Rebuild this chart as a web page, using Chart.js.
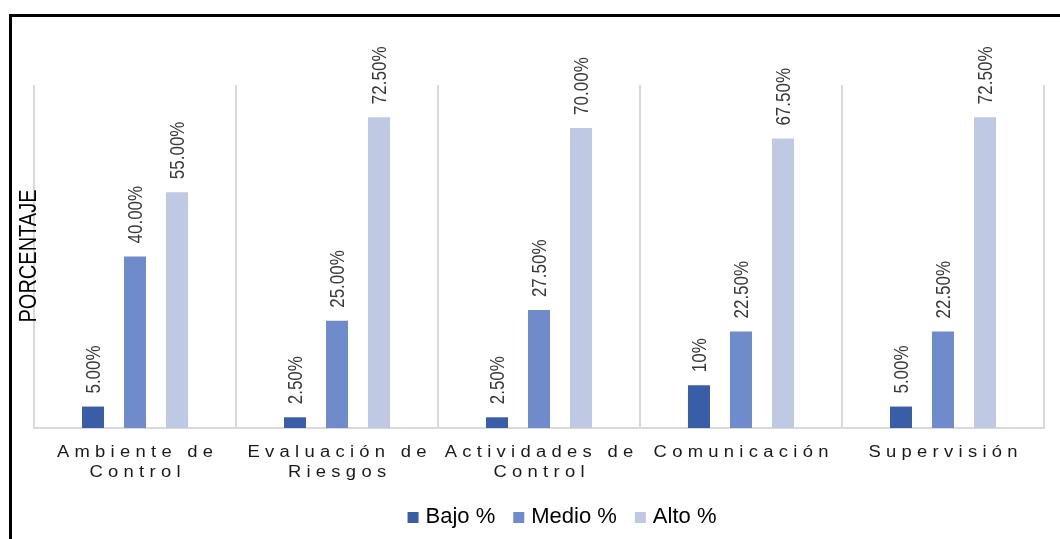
<!DOCTYPE html>
<html>
<head>
<meta charset="utf-8">
<script src="https://cdn.jsdelivr.net/npm/chart.js@4.4.1/dist/chart.umd.min.js"></script>
<style>
  html, body { margin: 0; padding: 0; background: #fff; }
  #wrap { width: 1060px; height: 539px; }
</style>
</head>
<body>
<div id="wrap"><canvas id="chart" width="1060" height="539"></canvas></div>
<script>
const categories = [
  ['Ambiente de', 'Control'],
  ['Evaluación de', 'Riesgos'],
  ['Actividades de', 'Control'],
  ['Comunicación'],
  ['Supervisión']
];
const seriesNames = ['Bajo %', 'Medio %', 'Alto %'];
const bajo = [5, 2.5, 2.5, 10, 5];
const medio = [40, 25, 27.5, 22.5, 22.5];
const alto = [55, 72.5, 70, 67.5, 72.5];
const bajoLabels = ['5.00%', '2.50%', '2.50%', '10%', '5.00%'];
const medioLabels = ['40.00%', '25.00%', '27.50%', '22.50%', '22.50%'];
const altoLabels = ['55.00%', '72.50%', '70.00%', '67.50%', '72.50%'];
const yMax = 80;
const yTitle = 'PORCENTAJE';

const colors = ['#3a5da7', '#6f8bcb', '#bfc9e3'];
const FONT = '"Liberation Sans", Arial, sans-serif';

// frame, axis title, category labels, value labels and legend
const decor = {
  id: 'decor',
  beforeDraw(c) {
    const ctx = c.ctx;
    ctx.save();
    ctx.fillStyle = '#000';
    ctx.fillRect(9, 14, c.width, 3);
    ctx.fillRect(9, 14, 3, c.height);
    ctx.restore();
  },
  afterDraw(c) {
    const ctx = c.ctx;
    const area = c.chartArea;
    const xs = c.scales.x;

    // y title
    ctx.save();
    ctx.translate(29, 256);
    ctx.rotate(-Math.PI / 2);
    ctx.scale(1, 1.22);
    ctx.font = '20px ' + FONT;
    ctx.fillStyle = '#000';
    ctx.textAlign = 'center';
    ctx.textBaseline = 'middle';
    ctx.fillText(yTitle, 0, 0);
    ctx.restore();

    // category labels, wide and spaced out
    ctx.save();
    ctx.font = '16px ' + FONT;
    ctx.fillStyle = '#1a1a1a';
    ctx.textBaseline = 'alphabetic';
    ctx.textAlign = 'left';
    const ls = 4.6;
    ctx.letterSpacing = ls + 'px';
    categories.forEach((lines, i) => {
      const cx = xs.getPixelForValue(i);
      lines.forEach((t, k) => {
        const w = ctx.measureText(t).width - ls;
        ctx.save();
        ctx.translate(cx, area.bottom + 29 + k * 20);
        ctx.scale(1.15, 1);
        ctx.fillText(t, -w / 2, 0);
        ctx.restore();
      });
    });
    ctx.restore();

    // value labels above the bars
    const labelSets = [bajoLabels, medioLabels, altoLabels];
    ctx.save();
    ctx.font = '17px ' + FONT;
    ctx.fillStyle = '#383838';
    ctx.textAlign = 'left';
    ctx.textBaseline = 'middle';
    c.data.datasets.forEach((ds, di) => {
      c.getDatasetMeta(di).data.forEach((bar, j) => {
        ctx.save();
        ctx.translate(bar.x + 1, bar.y - 13);
        ctx.rotate(-Math.PI / 2);
        ctx.scale(1, 1.2);
        ctx.fillText(labelSets[di][j], 0, 0);
        ctx.restore();
      });
    });
    ctx.restore();

    // legend
    const items = c.options.plugins.legend.labels.generateLabels(c);
    ctx.save();
    ctx.font = '22px ' + FONT;
    ctx.textBaseline = 'alphabetic';
    ctx.textAlign = 'left';
    const box = 11, gap = 7, between = 18;
    const widths = items.map(it => box + gap + ctx.measureText(it.text).width);
    const total = widths.reduce((a, b) => a + b, 0) + between * (items.length - 1);
    let x = 562 - total / 2;
    items.forEach((it, i) => {
      ctx.fillStyle = it.fillStyle;
      ctx.fillRect(x, 512, box, box);
      ctx.fillStyle = '#000';
      ctx.fillText(it.text, x + box + gap, 523);
      x += widths[i] + between;
    });
    ctx.restore();
  }
};

const mk = (label, data, color) => ({
  label: label,
  data: data,
  backgroundColor: color,
  borderWidth: 0,
  categoryPercentage: 0.624,
  barPercentage: 0.524
});

new Chart(document.getElementById('chart'), {
  type: 'bar',
  data: {
    labels: categories,
    datasets: [
      mk(seriesNames[0], bajo, colors[0]),
      mk(seriesNames[1], medio, colors[1]),
      mk(seriesNames[2], alto, colors[2])
    ]
  },
  options: {
    responsive: false,
    animation: false,
    layout: {
      padding: { left: 34, right: 16, top: 85, bottom: 111 }
    },
    scales: {
      x: {
        grid: {
          color: '#d9d9d9',
          lineWidth: 2,
          drawTicks: false,
          offset: true
        },
        border: { color: '#d9d9d9', width: 2 },
        ticks: { display: false },
        afterFit(scale) { scale.height = 0; }
      },
      y: {
        display: false,
        min: 0,
        max: yMax
      }
    },
    plugins: {
      legend: { display: false },
      tooltip: { enabled: false }
    }
  },
  plugins: [decor]
});
</script>
</body>
</html>
